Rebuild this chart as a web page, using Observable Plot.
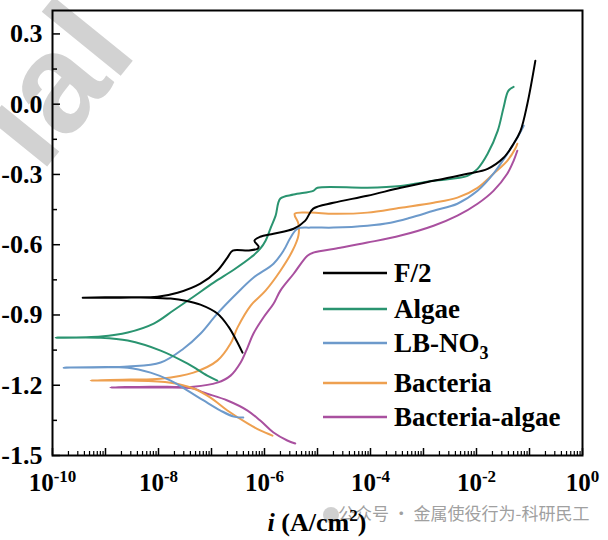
<!DOCTYPE html>
<html><head><meta charset="utf-8">
<script src="https://cdn.jsdelivr.net/npm/d3@7"></script>
<script src="https://cdn.jsdelivr.net/npm/@observablehq/plot@0.6"></script>
<style>
body{margin:0;background:#fff;}
#chart{position:relative;width:608px;height:540px;overflow:hidden;}
</style></head><body><div id="chart"></div>
<script>
const FONT = "Liberation Serif, Nimbus Roman, DejaVu Serif, serif";
const seriesNames = ["F/2","Algae","LB-NO3","Bacteria","Bacteria-algae"];
const seriesColors = ["#000000","#2a9470","#6d9acb","#eea050","#a9509f"];

// Each curve: cathodic end -> corrosion potential -> anodic end. log10(i [A/cm2]) and E (V)
const f2LogI = [-6.415,-6.53,-6.68,-6.89,-7.21,-7.49,-7.77,-8.15,-8.72,-9.43,
  -8.72,-8.02,-7.64,-7.21,-6.89,-6.70,-6.60,-6.30,-6.13,-6.11,-6.19,-6.08,-5.83,-5.45,-5.23,-5.08,-4.70,-4.06,-3.43,-2.81,-2.17,-1.79,-1.49,-1.30,-1.17,-1.04,-0.89];
const f2E = [-1.061,-1.009,-0.950,-0.894,-0.856,-0.839,-0.830,-0.826,-0.826,-0.826,
  -0.824,-0.822,-0.805,-0.766,-0.711,-0.655,-0.625,-0.625,-0.617,-0.608,-0.583,-0.566,-0.553,-0.532,-0.497,-0.446,-0.421,-0.391,-0.357,-0.327,-0.297,-0.276,-0.229,-0.169,-0.114,0.002,0.185];

const algaeLogI = [-6.89,-7.08,-7.45,-7.96,-8.58,-9.09,-9.94,
  -9.09,-8.58,-8.09,-7.72,-7.34,-6.96,-6.58,-6.26,-6.08,-5.98,-5.89,-5.79,-5.70,-5.45,-5.08,-5.00,-4.06,-3.43,-2.81,-2.17,-1.98,-1.79,-1.60,-1.49,-1.40,-1.30];
const algaeE = [-1.180,-1.159,-1.108,-1.052,-1.009,-0.997,-0.997,
  -0.992,-0.975,-0.937,-0.881,-0.822,-0.762,-0.707,-0.655,-0.617,-0.583,-0.532,-0.476,-0.403,-0.386,-0.370,-0.357,-0.357,-0.349,-0.327,-0.306,-0.276,-0.212,-0.114,-0.015,0.057,0.074];

const lbLogI = [-6.40,-6.58,-6.83,-7.15,-7.45,-7.77,-8.15,-8.58,-9.79,
  -8.58,-7.96,-7.53,-7.21,-6.89,-6.51,-6.21,-5.83,-5.64,-5.51,-5.38,-5.13,-4.70,-4.06,-3.62,-3.25,-2.81,-2.36,-1.98,-1.68,-1.42,-1.23,-1.11];
const lbE = [-1.338,-1.334,-1.308,-1.265,-1.223,-1.180,-1.146,-1.125,-1.125,
  -1.120,-1.103,-1.044,-0.980,-0.894,-0.805,-0.741,-0.681,-0.625,-0.570,-0.532,-0.527,-0.527,-0.519,-0.506,-0.485,-0.455,-0.425,-0.370,-0.297,-0.212,-0.143,-0.092];

const bactLogI = [-5.85,-6.08,-6.32,-6.70,-7.02,-7.34,-7.77,-8.53,-9.28,
  -8.53,-7.96,-7.34,-6.89,-6.64,-6.51,-6.26,-5.98,-5.70,-5.47,-5.36,-5.36,-5.43,-5.13,-4.70,-4.06,-3.43,-2.81,-2.36,-1.98,-1.68,-1.42,-1.26,-1.23];
const bactE = [-1.415,-1.393,-1.363,-1.308,-1.253,-1.214,-1.189,-1.180,-1.180,
  -1.176,-1.172,-1.146,-1.095,-1.022,-0.954,-0.860,-0.796,-0.711,-0.625,-0.561,-0.510,-0.468,-0.463,-0.468,-0.463,-0.442,-0.421,-0.399,-0.357,-0.297,-0.242,-0.186,-0.169];

const baLogI = [-5.42,-5.57,-5.83,-6.08,-6.32,-6.70,-7.15,-7.34,-8.15,-8.91,
  -8.15,-7.34,-6.89,-6.64,-6.45,-6.32,-6.21,-6.02,-5.83,-5.70,-5.45,-5.19,-5.08,-4.57,-4.06,-3.43,-2.81,-2.36,-1.98,-1.68,-1.42,-1.30,-1.23];
const baE = [-1.449,-1.436,-1.402,-1.351,-1.308,-1.265,-1.231,-1.214,-1.210,-1.210,
  -1.206,-1.206,-1.189,-1.159,-1.103,-1.039,-0.980,-0.911,-0.852,-0.796,-0.724,-0.647,-0.634,-0.613,-0.591,-0.561,-0.519,-0.476,-0.425,-0.370,-0.297,-0.242,-0.199];

const xLabelTicks = [1e-10,1e-8,1e-6,1e-4,1e-2,1];
const yTicks = [-1.5,-1.2,-0.9,-0.6,-0.3,0.0,0.3];
const yMinorTicks = [-1.35,-1.05,-0.75,-0.45,-0.15,0.15];
const xLabel = ["i"," (A/cm","2",")"];
const watermarkText = "公众号 · 金属使役行为-科研民工";

const xMajor = d3.range(-10,1).map(k => Math.pow(10,k));
const xMinor = d3.range(-10,0).flatMap(k => d3.range(2,10).map(m => m*Math.pow(10,k)));

const curves = [
  ["Bacteria-algae", baLogI, baE],
  ["Bacteria", bactLogI, bactE],
  ["LB-NO3", lbLogI, lbE],
  ["Algae", algaeLogI, algaeE],
  ["F/2", f2LogI, f2E]
];
const rows = curves.flatMap(([s, li, e]) => li.map((v, j) => ({series: s, i: Math.pow(10, v), E: e[j]})));

const plot = Plot.plot({
  width: 608, height: 540,
  marginLeft: 52, marginRight: 26, marginTop: 10, marginBottom: 85,
  style: {fontFamily: FONT, background: "white", overflow: "visible"},
  x: {type: "log", domain: [1e-10, 1], label: null},
  y: {domain: [-1.5, 0.4], label: null},
  color: {domain: seriesNames, range: seriesColors},
  marks: [
    Plot.line(rows, {x: "i", y: "E", z: "series", stroke: "series", strokeWidth: 2, curve: "catmull-rom"}),
    Plot.frame({stroke: "black", strokeWidth: 2}),
    Plot.axisX({ticks: xLabelTicks, tickSize: 0, tickPadding: 18, fontSize: 25, fontWeight: "bold", fontFamily: FONT,
      tickFormat: d => "10^" + Math.round(Math.log10(d)), label: null}),
    Plot.axisX({ticks: xMajor, tickSize: 7, dy: -7, strokeWidth: 1.5, fill: "none", label: null}),
    Plot.axisX({ticks: xMinor, tickSize: 4, dy: -4, strokeWidth: 1.2, fill: "none", label: null}),
    Plot.axisY({ticks: yTicks, tickSize: 0, tickPadding: 10, fontSize: 26, fontWeight: "bold", fontFamily: FONT,
      tickFormat: d => d.toFixed(1), label: null}),
    Plot.axisY({ticks: yTicks, tickSize: 8, dx: 8, strokeWidth: 1.5, fill: "none", label: null}),
    Plot.axisY({ticks: yMinorTicks, tickSize: 5, dx: 5, strokeWidth: 1.5, fill: "none", label: null})
  ]
});
document.getElementById("chart").appendChild(plot);
const svg = d3.select(plot);

// superscript tick labels
svg.selectAll('[aria-label="x-axis tick label"] text').each(function() {
  const t = d3.select(this);
  const s = t.text();
  if (!s.includes("^")) return;
  const [b, e] = s.split("^");
  t.text(null);
  t.append("tspan").text(b);
  t.append("tspan").attr("dy", -9).attr("font-size", 17).text(e);
});

// watermarks behind everything
const wm = svg.insert("g", ":first-child");
wm.append("text").attr("x", 41).attr("y", 174).attr("transform", "rotate(-51 41 174)")
  .attr("text-anchor", "start")
  .attr("font-family", "Liberation Sans, Arial, sans-serif").attr("font-weight", "bold")
  .attr("font-size", 140).attr("fill", "#d2d2d2").text("ial");
wm.append("circle").attr("cx", 331).attr("cy", 515).attr("r", 8).attr("fill", "#c4c4c4").attr("opacity", 0.8);
wm.append("text").attr("x", 338).attr("y", 520).attr("text-anchor", "start")
  .attr("font-family", "Noto Sans CJK SC, sans-serif")
  .attr("font-size", 17).attr("fill", "#a0a0a0").text(watermarkText);

// x title
const tt = svg.append("text").attr("x", 317).attr("y", 531).attr("text-anchor", "middle")
  .attr("font-family", FONT).attr("font-weight", "bold").attr("font-size", 26).attr("fill", "#000");
tt.append("tspan").attr("font-style", "italic").text(xLabel[0]);
tt.append("tspan").text(xLabel[1]);
tt.append("tspan").attr("dy", -10).attr("font-size", 17).text(xLabel[2]);
tt.append("tspan").attr("dy", 10).text(xLabel[3]);

// legend
const legY = [273, 309, 343, 383, 417];
const lg = svg.append("g").attr("text-anchor", "start");
seriesNames.forEach((n, k) => {
  lg.append("line").attr("x1", 323).attr("x2", 387).attr("y1", legY[k]).attr("y2", legY[k])
    .attr("stroke", seriesColors[k]).attr("stroke-width", 2.5);
  const tx = lg.append("text").attr("x", 394).attr("y", legY[k] + 9).attr("text-anchor", "start")
    .attr("font-family", FONT).attr("font-weight", "bold").attr("font-size", 27).attr("fill", "#000");
  if (n === "LB-NO3") {
    tx.append("tspan").text("LB-NO");
    tx.append("tspan").attr("dy", 7).attr("font-size", 18).text("3");
  } else tx.text(n);
});
</script>
</body></html>
